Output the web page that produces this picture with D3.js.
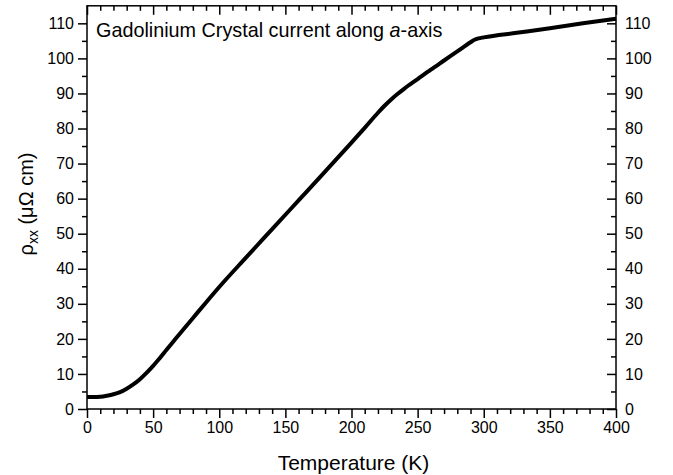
<!DOCTYPE html>
<html><head><meta charset="utf-8">
<script src="https://cdn.jsdelivr.net/npm/d3@7"></script>
<style>body{margin:0;background:#fff}svg{display:block}text{font-family:Arial,"Liberation Sans",sans-serif;fill:#000}</style>
</head><body><svg id="c" width="673" height="475"></svg>
<script>
const temperature = [0,5,10,15,20,25,30,35,40,45,50,55,60,65,70,80,90,100,120,140,160,180,200,210,220,225,230,235,240,250,260,270,280,290,293,296,300,325,350,375,400];
const resistivity = [3.4,3.4,3.5,3.8,4.2,4.8,5.8,7.0,8.5,10.3,12.3,14.5,16.8,19.1,21.4,25.9,30.4,34.8,43.1,51.3,59.5,67.7,76.0,80.2,84.5,86.5,88.3,89.9,91.4,94.1,96.8,99.4,102.0,104.6,105.3,105.7,106.0,107.3,108.6,110.0,111.3];
const xTicks = [0,50,100,150,200,250,300,350,400];
const yTicks = [0,10,20,30,40,50,60,70,80,90,100,110];
const titleText = "Gadolinium Crystal current along ";
const xLabel = "Temperature (K)";

const svg = d3.select("#c");
const L=87,R=616,T=5.8,B=409;
const x = d3.scaleLinear().domain([0,400]).range([L,R]);
const y = d3.scaleLinear().domain([0,115]).range([B,T]);
const xMinor = d3.range(0,401,10).filter(v=>v%50!==0);
const yMinor = d3.range(5,115,10);

function styleAxis(g){g.selectAll("path,line").attr("stroke","#000").attr("stroke-width",1.5);g.select(".domain").remove();g.selectAll("text").attr("font-size",16).attr("font-family","Arial, 'Liberation Sans', sans-serif");}

svg.append("g").attr("transform",`translate(0,${B})`).call(d3.axisBottom(x).tickValues(xMinor).tickSize(5).tickFormat("")).call(styleAxis);
svg.append("g").attr("transform",`translate(0,${B})`).call(d3.axisBottom(x).tickValues(xTicks).tickSize(9).tickPadding(4)).call(styleAxis);
svg.append("g").attr("transform",`translate(0,${T})`).call(d3.axisTop(x).tickValues(xMinor).tickSize(-5).tickFormat("")).call(styleAxis);
svg.append("g").attr("transform",`translate(0,${T})`).call(d3.axisTop(x).tickValues(xTicks).tickSize(-9).tickFormat("")).call(styleAxis);
svg.append("g").attr("transform",`translate(${L},0)`).call(d3.axisLeft(y).tickValues(yMinor).tickSize(5).tickFormat("")).call(styleAxis);
svg.append("g").attr("transform",`translate(${L},0)`).call(d3.axisLeft(y).tickValues(yTicks).tickSize(9).tickPadding(4)).call(styleAxis);
svg.append("g").attr("transform",`translate(${R},0)`).call(d3.axisRight(y).tickValues(yMinor).tickSize(-5).tickFormat("")).call(styleAxis);
svg.append("g").attr("transform",`translate(${R},0)`).call(d3.axisRight(y).tickValues(yTicks).tickSize(-9).tickPadding(9)).call(styleAxis);

svg.append("rect").attr("x",L).attr("y",T).attr("width",R-L).attr("height",B-T).attr("fill","none").attr("stroke","#000").attr("stroke-width",1.5);

const data = temperature.map((t,i)=>[t,resistivity[i]]);
svg.append("path").datum(data).attr("fill","none").attr("stroke","#000").attr("stroke-width",4).attr("stroke-linejoin","round")
  .attr("d",d3.line().x(d=>x(d[0])).y(d=>y(d[1])).curve(d3.curveMonotoneX));

const t = svg.append("text").attr("x",96).attr("y",37).attr("font-size",19.8);
t.append("tspan").text(titleText);
t.append("tspan").attr("font-style","italic").text("a");
t.append("tspan").text("-axis");

svg.append("text").attr("x",(L+R)/2+2).attr("y",470).attr("text-anchor","middle").attr("font-size",21).text(xLabel);

const yl = svg.append("text").attr("transform","translate(33,204) rotate(-90)").attr("text-anchor","middle").attr("font-size",20);
yl.append("tspan").text("ρ");
yl.append("tspan").attr("font-size",14).attr("dy",5).text("xx");
yl.append("tspan").attr("dy",-5).text(" (μΩ cm)");
</script></body></html>
